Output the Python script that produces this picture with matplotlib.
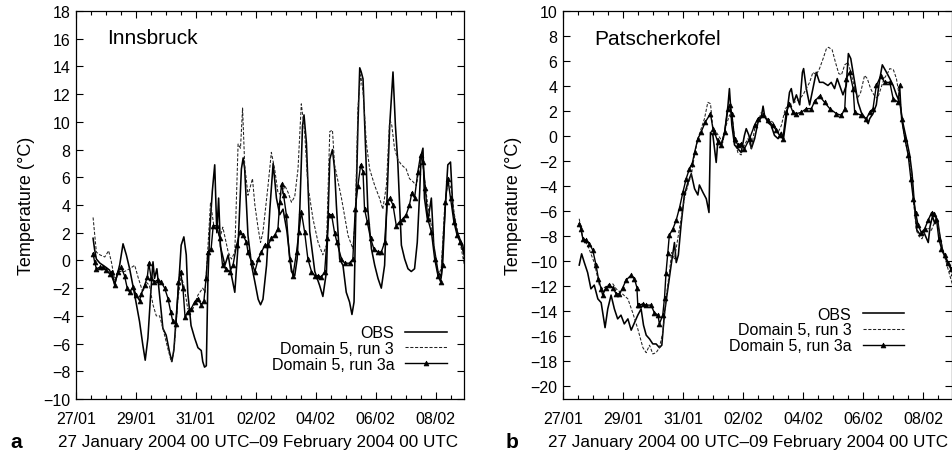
import matplotlib
matplotlib.use("Agg")
import matplotlib.pyplot as plt
from matplotlib.ticker import MultipleLocator, FixedLocator

plt.rcParams['font.family'] = ['Liberation Sans', 'DejaVu Sans']

# time axis: days since 27 January 2004 00 UTC
tick_days = [0, 2, 4, 6, 8, 10, 12]
tick_labels = ["27/01", "29/01", "31/01", "02/02", "04/02", "06/02", "08/02"]
series_labels = ["OBS", "Domain 5, run 3", "Domain 5, run 3a"]

# ---------------- Innsbruck ----------------
ibk_obs_t = [0.57, 0.62, 0.68, 0.80, 1.00, 1.12, 1.29, 1.38, 1.46, 1.57, 1.68, 1.79, 1.96, 2.12, 2.23, 2.31,
             2.40, 2.49, 2.57, 2.62, 2.70, 2.79, 2.90, 3.01, 3.12, 3.20, 3.27, 3.34, 3.42, 3.51, 3.60, 3.68,
             3.73, 3.84, 3.96, 4.07, 4.18, 4.23, 4.29, 4.35, 4.40, 4.46, 4.55, 4.63, 4.70, 4.76, 4.82, 4.97,
             5.08, 5.19, 5.30, 5.41, 5.52, 5.58, 5.63, 5.74, 5.86, 5.97, 6.08, 6.16, 6.24, 6.36, 6.47, 6.58,
             6.69, 6.80, 6.91, 7.04, 7.19, 7.30, 7.38, 7.47, 7.56, 7.61, 7.69, 7.80, 7.97, 8.13, 8.24, 8.36,
             8.47, 8.56, 8.63, 8.69, 8.80, 8.91, 9.02, 9.13, 9.21, 9.28, 9.33, 9.41, 9.47, 9.52, 9.58, 9.66,
             9.74, 9.86, 9.97, 10.08, 10.19, 10.30, 10.39, 10.47, 10.58, 10.66, 10.74, 10.86, 10.97, 11.08,
             11.19, 11.30, 11.39, 11.47, 11.52, 11.58, 11.63, 11.74, 11.86, 11.94, 12.08, 12.19, 12.30, 12.41,
             12.50, 12.58, 12.69, 12.80, 12.91, 12.97]
ibk_obs_v = [1.6, 0.8, 0.1, -0.2, -0.5, -0.7, -1.7, -1.0, -0.3, 1.2, 0.4, -0.6, -2.5, -4.4, -6.1, -7.2,
             -5.6, -2.5, -0.1, -1.3, -0.6, -2.5, -4.9, -5.4, -6.6, -7.3, -6.4, -4.2, -2.0, 1.1, 1.7, 0.4,
             -2.3, -4.7, -5.6, -6.3, -6.5, -7.3, -7.7, -7.6, -1.6, 2.0, 5.0, 6.9, 2.0, 4.5, 1.0, -0.35,
             0.4, -1.1, -2.3, 1.1, 6.6, 7.4, 6.6, 1.8, -0.35, -1.55, -2.8, -3.2, -2.8, -0.35, 3.7, 7.0,
             4.5, 3.3, 3.7, 2.1, -0.8, -1.1, 0.1, 3.7, 9.7, 10.5, 8.5, 2.1, -0.8, -1.8, -2.6, -0.8,
             7.3, 8.0, 6.6, 4.0, 0.1, -0.35, -2.3, -3.0, -3.9, -3.0, 2.5, 9.75, 13.9, 13.6, 13.1, 8.5,
             3.7, 0.85, -0.35, -1.3, -2.0, -0.35, 4.9, 9.75, 13.6, 9.75, 7.1, 1.1, 0.1, -0.6,
             -0.8, -0.6, 1.3, 4.9, 7.6, 8.1, 4.5, 2.8, 4.5, 1.1, -0.8, -1.2, 3.0, 6.9,
             7.1, 3.7, 2.3, 1.6, 1.1, 0.3]

ibk_run3_t = [0.57, 0.68, 0.80, 0.96, 1.09, 1.18, 1.29, 1.40, 1.62, 1.79, 1.96, 2.07, 2.23, 2.34, 2.45, 2.57,
              2.68, 2.79, 2.90, 3.07, 3.18, 3.25, 3.32, 3.40, 3.51, 3.62, 3.73, 3.90, 4.07, 4.23, 4.31, 4.38,
              4.49, 4.60, 4.69, 4.80, 4.90, 5.08, 5.19, 5.30, 5.41, 5.49, 5.56, 5.63, 5.74, 5.89, 5.97, 6.08,
              6.16, 6.24, 6.41, 6.52, 6.63, 6.74, 6.86, 6.97, 7.08, 7.19, 7.30, 7.41, 7.52, 7.63, 7.74, 7.91,
              8.08, 8.24, 8.36, 8.47, 8.56, 8.63, 8.86, 9.08, 9.24, 9.32, 9.41, 9.50, 9.58, 9.69, 9.80, 9.97,
              10.13, 10.24, 10.36, 10.47, 10.54, 10.63, 10.74, 10.86, 11.02, 11.13, 11.24, 11.36, 11.47, 11.54,
              11.63, 11.74, 11.86, 11.97, 12.08, 12.19, 12.30, 12.41, 12.52, 12.63, 12.74, 12.86, 12.97]
ibk_run3_v = [3.1, 0.6, 0.4, 0.25, 0.7, -0.1, -1.4, -0.8, -0.8, -0.6, -0.35, -1.2, -2.3, -1.55, -1.8, -3.2,
              -4.0, -4.0, -4.9, -6.4, -7.3, -6.8, -5.2, -2.8, -1.1, -2.0, -3.5, -3.5, -2.5, -2.0, -2.3, 0.1,
              4.2, 2.5, 2.5, 1.6, 2.4, 0.6, 0.1, 0.6, 8.4, 8.1, 11.0, 6.9, 4.7, 5.9, 4.0, 2.3,
              1.3, 2.06, 5.4, 7.8, 6.6, 4.9, 4.7, 5.4, 4.9, 4.2, 4.6, 6.6, 11.3, 9.3, 5.4, 3.0,
              1.3, 0.4, 1.1, 9.3, 9.4, 6.9, 4.5, 1.8, 0.85, 3.0, 11.0, 13.4, 12.2, 8.5, 6.6, 5.4,
              4.5, 3.7, 5.4, 10.2, 9.75, 8.1, 7.3, 6.9, 6.6, 5.9, 5.7, 5.4, 6.9, 7.6,
              5.9, 4.0, 2.5, 0.6, -1.1, -0.6, 3.7, 5.7, 5.2, 3.3, 2.06, 0.85, -0.4]

ibk_run3a_t = [0.57, 0.62, 0.68, 0.79, 0.90, 1.01, 1.12, 1.20, 1.29, 1.40, 1.51, 1.62, 1.71, 1.79, 1.90, 2.01,
               2.12, 2.18, 2.29, 2.38, 2.43, 2.51, 2.62, 2.73, 2.84, 2.96, 3.07, 3.16, 3.23, 3.34, 3.42, 3.49,
               3.57, 3.64, 3.73, 3.84, 3.96, 4.07, 4.18, 4.27, 4.34, 4.40, 4.51, 4.58, 4.69, 4.80, 4.89, 5.00,
               5.13, 5.24, 5.36, 5.47, 5.58, 5.69, 5.74, 5.86, 5.97, 6.08, 6.19, 6.30, 6.41, 6.52, 6.63, 6.74,
               6.80, 6.86, 6.93, 7.02, 7.13, 7.24, 7.36, 7.44, 7.52, 7.63, 7.74, 7.86, 7.97, 8.08, 8.19, 8.30,
               8.38, 8.44, 8.53, 8.63, 8.71, 8.86, 8.97, 9.13, 9.24, 9.32, 9.41, 9.50, 9.58, 9.63, 9.72, 9.83,
               9.94, 10.08, 10.19, 10.30, 10.39, 10.47, 10.58, 10.69, 10.80, 10.91, 11.02, 11.13, 11.21, 11.30,
               11.41, 11.50, 11.58, 11.66, 11.74, 11.86, 11.97, 12.08, 12.17, 12.24, 12.33, 12.41, 12.50, 12.61,
               12.72, 12.83, 12.97]
ibk_run3a_v = [0.5, -0.1, -0.6, -0.5, -0.5, -0.7, -0.95, -0.8, -1.8, -0.8, -0.5, -1.1, -2.0, -2.3, -1.9, -2.5,
               -2.9, -2.4, -1.8, -1.2, -0.2, -1.3, -1.55, -1.4, -1.55, -2.0, -2.75, -3.7, -4.4, -4.56, -1.55, -0.8,
               -2.0, -4.1, -3.7, -3.5, -3.0, -2.75, -3.2, -2.9, -1.3, 0.6, 0.85, 2.5, 2.5, 1.6, -0.35, -0.6,
               -0.8, -0.35, 1.1, 2.06, 1.8, 1.3, 0.6, -0.1, -0.8, 0.1, 0.6, 1.1, 1.1, 1.6, 1.8, 2.3,
               4.2, 5.5, 4.7, 3.3, 0.1, -1.1, 0.6, 2.06, 3.5, 2.06, 0.1, -0.8, -1.1, -1.1, -1.2, -0.8,
               1.6, 3.3, 3.3, 2.0, 1.3, 0.1, -0.2, -0.2, 0.1, 3.7, 5.4, 6.9, 6.4, 3.7, 2.8, 1.6,
               0.85, 0.6, 0.6, 1.3, 4.2, 4.5, 4.0, 2.5, 2.8, 3.0, 3.3, 4.0, 4.9, 4.5,
               6.4, 7.6, 7.1, 5.2, 3.0, 2.06, 0.1, -1.1, -1.55, -0.35, 4.2, 5.9, 4.5, 2.8,
               1.8, 1.3, 0.3]

# ---------------- Patscherkofel ----------------
pk_obs_t = [0.54, 0.62, 0.71, 0.82, 0.93, 1.04, 1.16, 1.27, 1.40, 1.49, 1.60, 1.71, 1.82, 1.93, 2.04, 2.16,
            2.27, 2.38, 2.49, 2.60, 2.68, 2.77, 2.88, 2.99, 3.10, 3.21, 3.29, 3.38, 3.49, 3.60, 3.71, 3.77,
            3.84, 3.93, 4.04, 4.16, 4.27, 4.38, 4.49, 4.54, 4.66, 4.77, 4.86, 4.91, 4.99, 5.10, 5.16, 5.27,
            5.38, 5.49, 5.54, 5.62, 5.71, 5.82, 5.93, 6.04, 6.10, 6.19, 6.27, 6.38, 6.49, 6.60, 6.66, 6.71,
            6.82, 6.93, 7.04, 7.16, 7.27, 7.34, 7.43, 7.54, 7.60, 7.68, 7.77, 7.88, 7.97, 8.01, 8.10, 8.21,
            8.32, 8.43, 8.54, 8.66, 8.82, 8.93, 9.04, 9.13, 9.21, 9.32, 9.43, 9.50, 9.58, 9.71, 9.82, 9.93,
            10.04, 10.16, 10.21, 10.32, 10.43, 10.54, 10.63, 10.77, 10.88, 10.99, 11.10, 11.21, 11.32, 11.43,
            11.54, 11.62, 11.70, 11.78, 11.90, 12.00, 12.16, 12.22, 12.30, 12.38, 12.47, 12.55, 12.65, 12.75,
            12.85, 12.97]
pk_obs_v = [-10.3, -9.4, -10.1, -10.9, -12.2, -11.9, -13.0, -13.3, -15.3, -13.8, -12.7, -13.8, -14.6, -14.3, -15.0, -14.6,
            -15.5, -14.9, -14.3, -13.8, -15.1, -15.9, -16.2, -16.6, -16.6, -16.9, -16.7, -14.1, -12.2, -10.3, -8.5, -10.1,
            -9.5, -7.1, -4.7, -3.7, -3.0, -4.2, -4.7, -3.9, -4.5, -5.0, -6.1, 0.3, 0.06, -2.1, -0.2, -0.7,
            0.3, 2.4, 3.8, 0.9, -0.7, -1.0, -1.3, 0.06, 0.6, 0.06, -1.0, -0.2, 1.1, 1.5, 2.4, 1.66,
            1.1, 0.86, 0.06, -0.2, 0.3, -0.2, 1.4, 3.5, 3.8, 2.7, 3.3, 2.5, 5.1, 5.4, 3.8, 2.5,
            3.8, 5.1, 4.3, 4.3, 4.05, 4.3, 3.8, 4.6, 4.05, 3.3, 4.05, 6.6, 6.2, 4.3, 2.7, 1.9,
            1.5, 1.0, 1.4, 1.8, 2.5, 4.5, 5.7, 5.1, 4.6, 4.05, 3.3, 2.7, 1.0, -0.2,
            -1.5, -3.0, -5.5, -7.5, -7.9, -7.6, -8.5, -7.2, -6.4, -7.0, -6.7, -8.0, -9.3, -9.8,
            -10.3, -10.9]

pk_run3_t = [0.54, 0.66, 0.82, 1.04, 1.21, 1.32, 1.49, 1.66, 1.77, 1.93, 2.16, 2.32, 2.49, 2.66, 2.77, 2.88,
             2.99, 3.10, 3.21, 3.32, 3.43, 3.54, 3.62, 3.71, 3.82, 3.93, 4.04, 4.16, 4.27, 4.38, 4.49, 4.60,
             4.71, 4.82, 4.91, 4.99, 5.10, 5.32, 5.43, 5.54, 5.62, 5.71, 5.82, 5.93, 6.04, 6.16, 6.27, 6.38,
             6.49, 6.60, 6.71, 6.82, 6.99, 7.16, 7.27, 7.40, 7.54, 7.71, 7.88, 7.99, 8.10, 8.21, 8.32, 8.43,
             8.54, 8.66, 8.77, 8.84, 8.96, 9.07, 9.18, 9.27, 9.38, 9.49, 9.58, 9.69, 9.80, 9.91, 10.04, 10.13,
             10.24, 10.35, 10.47, 10.58, 10.69, 10.80, 10.88, 11.00, 11.10, 11.21, 11.30, 11.40, 11.50, 11.60,
             11.68, 11.76, 11.85, 11.95, 12.05, 12.15, 12.25, 12.35, 12.45, 12.55, 12.65, 12.75, 12.85, 12.97]
pk_run3_v = [-6.6, -8.2, -8.7, -10.1, -11.9, -12.2, -11.9, -11.8, -12.2, -12.5, -13.0, -14.1, -15.4, -16.9, -17.3, -16.7,
             -17.4, -17.3, -16.9, -15.7, -13.0, -10.9, -9.3, -9.8, -8.2, -6.6, -5.0, -3.9, -3.1, -1.5, -0.2, 0.6,
             1.4, 2.7, 2.6, 0.6, 0.33, -0.5, 0.86, 1.66, 1.9, -0.2, -1.3, -1.5, -0.7, -0.2, -1.0, 0.6,
             1.1, 1.9, 1.66, 1.4, 1.1, 0.3, 0.86, 2.2, 2.5, 2.7, 3.0, 3.3, 3.8, 4.3, 5.1, 4.9,
             5.4, 6.2, 7.0, 7.1, 6.9, 5.9, 5.0, 4.9, 5.7, 5.9, 5.1, 4.05, 3.0, 3.5, 4.85, 4.6,
             3.8, 3.3, 3.0, 3.8, 4.6, 5.0, 5.4, 5.3, 4.6, 3.0, 1.0, -0.5, -1.5, -3.0,
             -5.5, -7.5, -8.0, -8.2, -7.6, -7.3, -7.6, -7.0, -6.6, -8.0, -9.2, -10.0, -10.9, -11.9]

pk_run3a_t = [0.54, 0.60, 0.66, 0.77, 0.88, 0.99, 1.10, 1.18, 1.27, 1.32, 1.43, 1.54, 1.66, 1.77, 1.88, 1.99,
              2.10, 2.27, 2.38, 2.46, 2.49, 2.54, 2.66, 2.77, 2.93, 3.04, 3.16, 3.21, 3.32, 3.38, 3.43, 3.49,
              3.54, 3.66, 3.77, 3.88, 3.99, 4.10, 4.21, 4.30, 4.38, 4.49, 4.60, 4.73, 4.91, 4.99, 5.04, 5.16,
              5.27, 5.38, 5.49, 5.55, 5.62, 5.71, 5.82, 5.93, 6.04, 6.21, 6.38, 6.49, 6.66, 6.82, 6.99, 7.10,
              7.21, 7.32, 7.43, 7.54, 7.66, 7.77, 7.93, 8.10, 8.27, 8.38, 8.54, 8.71, 8.88, 9.10, 9.27, 9.38,
              9.43, 9.54, 9.66, 9.71, 9.93, 10.10, 10.21, 10.32, 10.43, 10.58, 10.71, 10.88, 10.99, 11.16,
              11.21, 11.27, 11.38, 11.49, 11.58, 11.66, 11.74, 11.82, 11.93, 12.04, 12.16, 12.27, 12.36, 12.43,
              12.51, 12.60, 12.71, 12.82, 12.93, 12.99]
pk_run3a_v = [-7.0, -7.4, -8.2, -8.3, -8.6, -9.1, -10.3, -11.4, -12.2, -12.7, -12.1, -11.9, -12.1, -12.6, -12.6, -12.1,
              -11.5, -11.1, -11.4, -12.1, -13.5, -13.5, -13.4, -13.5, -13.5, -14.1, -14.3, -15.0, -14.3, -12.9, -10.9, -9.3,
              -7.9, -7.4, -6.7, -5.7, -4.5, -3.4, -2.6, -2.2, -1.3, -0.2, 0.33, 1.1, 1.8, 0.6, 0.33, -0.5,
              -0.7, 0.33, 2.2, 2.5, 1.8, -0.2, -0.7, -0.6, -1.0, -0.2, 0.9, 1.4, 1.66, 1.26, 0.86, 0.46,
              0.06, -0.2, 1.9, 2.6, 1.9, 1.8, 1.9, 2.2, 2.2, 2.8, 3.2, 2.7, 2.2, 1.8, 1.66, 2.2,
              4.6, 5.1, 3.8, 1.9, 1.66, 1.4, 1.9, 2.2, 4.05, 4.8, 4.3, 4.3, 3.0, 2.7,
              4.05, 1.4, -0.2, -1.5, -3.4, -5.0, -6.1, -7.1, -7.7, -7.4, -6.7, -6.1, -6.2, -6.6,
              -8.2, -9.0, -9.5, -10.1, -10.6, -10.9]

W, H = 953, 452
fig = plt.figure(figsize=(W / 100, H / 100), dpi=100)


def px_axes(x0, x1, ytop, ybot):
    return fig.add_axes([x0 / W, 1 - ybot / H, (x1 - x0) / W, (ybot - ytop) / H])


ax1 = px_axes(76, 464, 12, 400)
ax2 = px_axes(563, 952, 12, 400)

TICK_FS = 11.5


def style(ax, ylim, yticks):
    ax.set_xlim(0, 12.95)
    ax.set_ylim(*ylim)
    ax.xaxis.set_major_locator(FixedLocator(tick_days))
    ax.set_xticklabels(tick_labels)
    ax.xaxis.set_minor_locator(MultipleLocator(0.5))
    ax.set_yticks(yticks)
    ax.tick_params(which='both', direction='in', top=True, right=True, labelsize=TICK_FS, width=0.8)
    ax.tick_params(which='major', length=5)
    ax.tick_params(which='minor', length=3)
    ax.tick_params(axis='x', pad=8.5)
    ax.tick_params(axis='y', pad=4)
    for s in ax.spines.values():
        s.set_linewidth(0.9)
    ax.set_ylabel("Temperature (\u00b0C)", fontsize=13, labelpad=6)


def draw(ax, obs, run3, run3a):
    l1, = ax.plot(obs[0], obs[1], color='black', lw=1.15, label=series_labels[0])
    l2, = ax.plot(run3[0], run3[1], color='#222222', lw=0.75, dashes=(3, 1.6), label=series_labels[1])
    l3, = ax.plot(run3a[0], run3a[1], color='black', lw=1.0, marker='^', markersize=3.5,
                  markeredgewidth=0.5, label=series_labels[2])
    return [l1, l2, l3]


h1 = draw(ax1, (ibk_obs_t, ibk_obs_v), (ibk_run3_t, ibk_run3_v), (ibk_run3a_t, ibk_run3a_v))
h2 = draw(ax2, (pk_obs_t, pk_obs_v), (pk_run3_t, pk_run3_v), (pk_run3a_t, pk_run3a_v))

style(ax1, (-10, 18), list(range(-10, 19, 2)))
style(ax2, (-21, 10), list(range(-20, 11, 2)))

ax1.text(0.08, 0.932, "Innsbruck", transform=ax1.transAxes, fontsize=15, va='center', ha='left')
ax2.text(0.08, 0.930, "Patscherkofel", transform=ax2.transAxes, fontsize=15, va='center', ha='left')

for ax, anchor in ((ax1, (0.956, 0.07)), (ax2, (0.877, 0.118))):
    ax.legend(loc='lower right', bbox_to_anchor=anchor, frameon=False, markerfirst=False,
              fontsize=TICK_FS, handlelength=2.6, handletextpad=0.7, labelspacing=0.05,
              borderpad=0, borderaxespad=0)

fig.text(10 / W, 1 - 443 / H, "a", fontsize=15, fontweight='bold', va='center', ha='left')
fig.text(58 / W, 1 - 443 / H, "27 January 2004 00 UTC\u201309 February 2004 00 UTC", fontsize=12.3,
         va='center', ha='left')
fig.text(506 / W, 1 - 443 / H, "b", fontsize=15, fontweight='bold', va='center', ha='left')
fig.text(548 / W, 1 - 443 / H, "27 January 2004 00 UTC\u201309 February 2004 00 UTC", fontsize=12.3,
         va='center', ha='left')

fig.savefig("out.png", dpi=100)
